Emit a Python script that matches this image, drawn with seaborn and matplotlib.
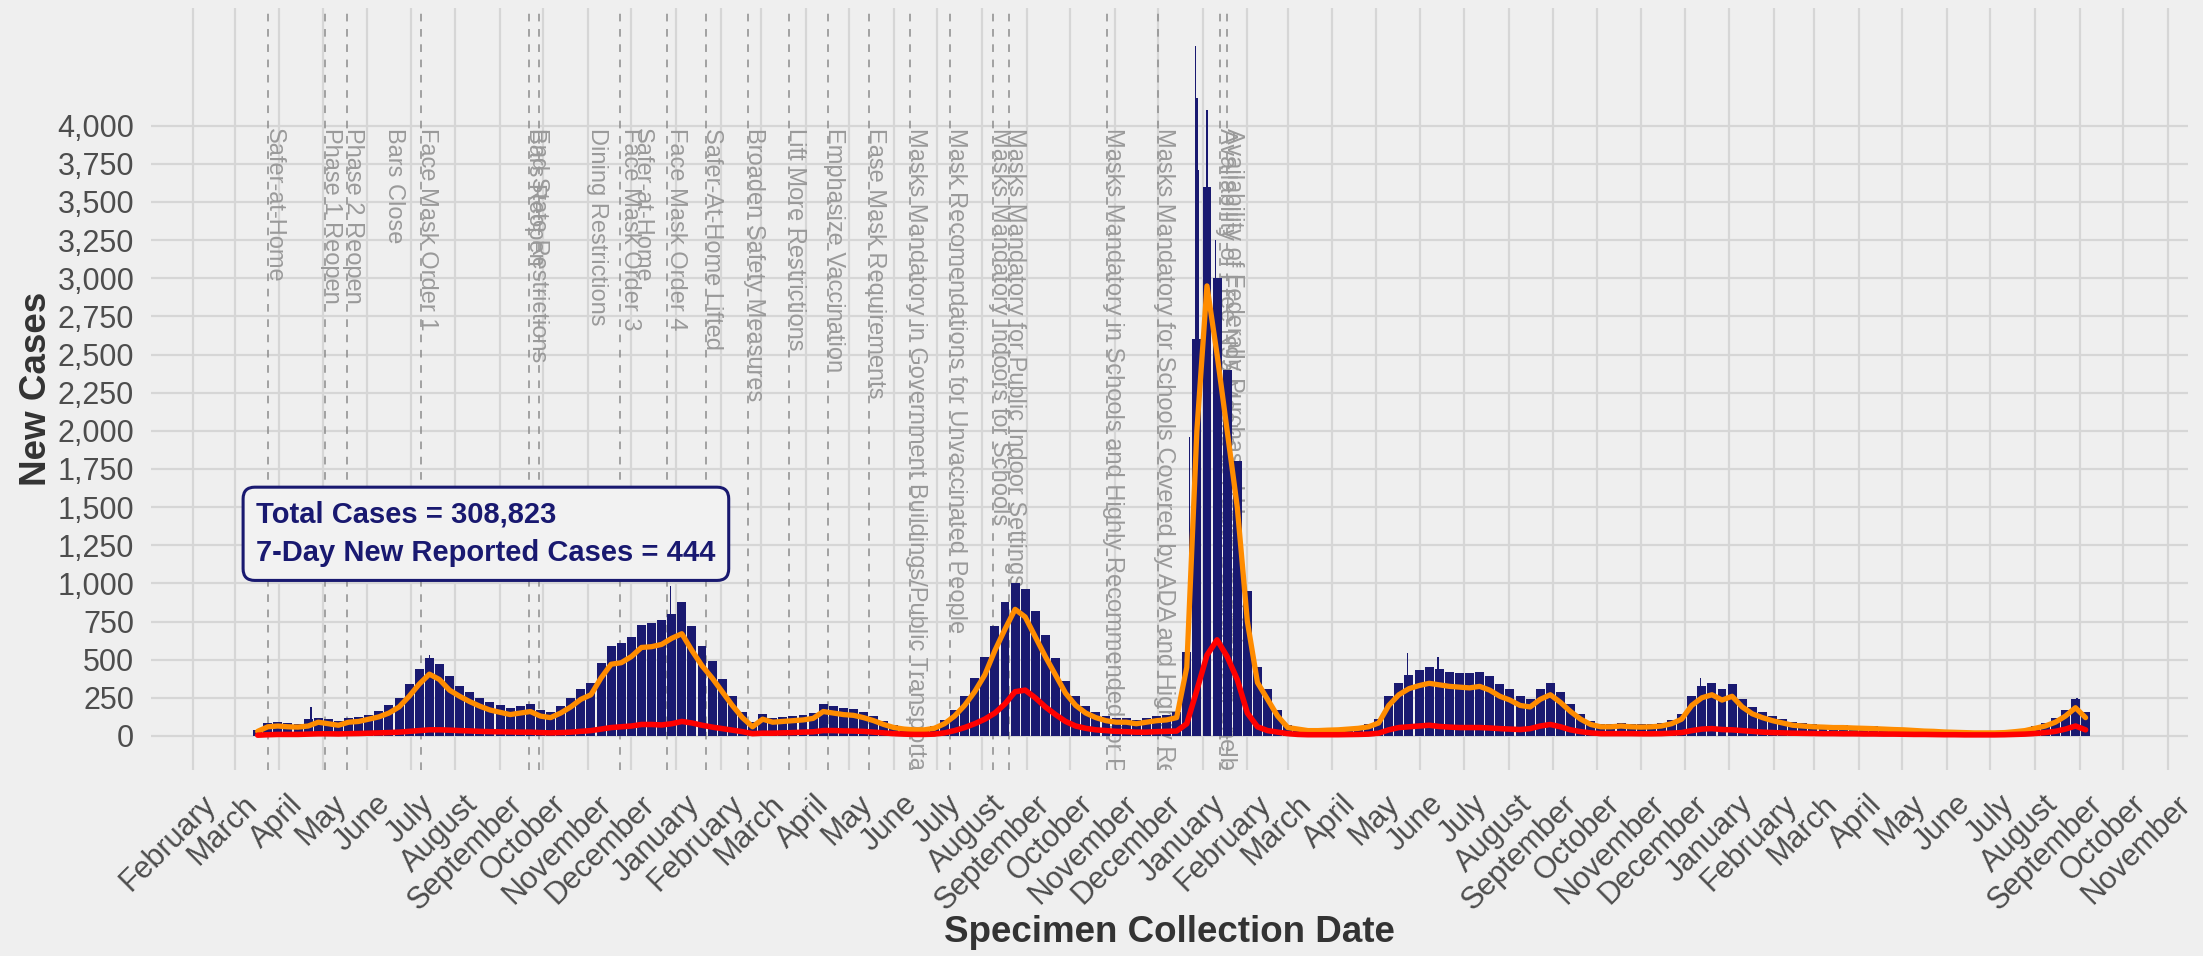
import numpy as np
import pandas as pd
import matplotlib
matplotlib.use("Agg")
import matplotlib.pyplot as plt
import matplotlib.dates as mdates
import matplotlib.transforms as mtransforms
import seaborn as sns

# ---- data (weekly, weeks start 2020-03-14) ----
week_start = pd.date_range("2020-03-14", periods=182, freq="7D")

# navy bars: typical high daily count in each week
bar_2020 = [40, 85, 90, 85, 80, 110, 120, 110, 95, 120, 125, 140, 165, 200, 250,
            340, 440, 510, 470, 390, 330, 290, 250, 220, 200, 180, 195, 210, 170,
            160, 195, 250, 310, 350, 480, 590, 610, 650, 730, 740, 760, 800]
bar_2021 = [880, 720, 590, 490, 370, 260, 160, 90, 145, 120, 125, 130, 140, 150,
            210, 195, 185, 175, 160, 130, 100, 75, 60, 55, 55, 65, 105, 170, 260,
            380, 520, 720, 880, 1000, 960, 820, 660, 510, 360, 260, 195, 155, 130,
            120, 115, 105, 115, 130, 135, 155, 550, 2600]
bar_2022 = [3600, 3000, 2400, 1800, 950, 450, 310, 170, 75, 55, 45, 45, 48, 52, 58,
            65, 78, 110, 260, 350, 400, 430, 450, 440, 420, 415, 410, 420, 390, 340,
            305, 260, 245, 310, 350, 285, 210, 145, 100, 80, 80, 85, 80, 76, 80, 85,
            105, 145, 260, 325, 350, 305, 340]
bar_2023 = [245, 190, 155, 130, 110, 90, 85, 78, 75, 72, 72, 68, 65, 62, 58, 55, 52,
            47, 42, 39, 34, 31, 29, 26, 26, 26, 29, 36, 45, 65, 85, 115, 170, 240, 155]

# orange line (7-day average)
avg_2020 = [30, 60, 65, 60, 58, 65, 90, 80, 70, 90, 95, 110, 125, 150, 190, 260, 340,
            405, 370, 300, 260, 225, 195, 170, 155, 140, 150, 160, 130, 120, 150, 190,
            240, 270, 380, 470, 480, 520, 580, 585, 600, 640]
avg_2021 = [670, 560, 460, 380, 290, 200, 120, 60, 110, 90, 95, 100, 105, 115, 160,
            150, 140, 135, 120, 100, 75, 55, 45, 40, 40, 50, 80, 130, 200, 290, 400,
            560, 700, 830, 780, 650, 520, 400, 280, 200, 150, 120, 100, 90, 90, 80,
            90, 100, 105, 120, 450, 2000]
avg_2022 = [2950, 2500, 2000, 1500, 750, 350, 240, 130, 55, 45, 35, 35, 38, 40, 45,
            50, 60, 85, 200, 270, 310, 330, 345, 335, 325, 320, 315, 325, 300, 260,
            235, 200, 190, 240, 270, 220, 160, 110, 75, 60, 60, 65, 60, 58, 60, 65,
            80, 110, 200, 250, 270, 235, 260]
avg_2023 = [190, 145, 120, 100, 85, 70, 65, 60, 58, 55, 55, 52, 50, 48, 45, 42, 40,
            36, 32, 30, 26, 24, 22, 20, 20, 20, 22, 28, 35, 50, 65, 90, 130, 185, 120]

# red line
red_2020 = [5, 8, 10, 10, 10, 12, 14, 14, 13, 15, 16, 18, 20, 22, 25, 30, 35, 40, 40,
            38, 35, 33, 30, 28, 27, 26, 25, 25, 22, 20, 22, 25, 30, 35, 45, 55, 60,
            65, 75, 75, 72, 80]
red_2021 = [95, 85, 70, 58, 48, 38, 28, 15, 18, 18, 20, 22, 25, 27, 35, 35, 33, 32,
            30, 25, 20, 15, 12, 10, 10, 12, 20, 35, 55, 80, 110, 150, 210, 290, 300,
            250, 190, 140, 95, 65, 50, 40, 35, 30, 28, 25, 25, 28, 30, 32, 80, 300]
red_2022 = [530, 630, 520, 370, 150, 60, 35, 25, 15, 10, 8, 8, 8, 8, 9, 10, 12, 18,
            40, 55, 60, 65, 70, 62, 58, 55, 55, 55, 52, 48, 45, 42, 48, 65, 75, 60,
            40, 28, 20, 15, 15, 15, 15, 14, 14, 15, 18, 22, 35, 45, 48, 42, 40]
red_2023 = [35, 30, 25, 22, 20, 18, 17, 16, 15, 15, 14, 14, 13, 13, 12, 12, 11, 10,
            10, 9, 8, 8, 7, 7, 7, 7, 8, 10, 12, 16, 22, 30, 45, 65, 40]

# single tall days that stick out above the weekly envelope
spike_dates = pd.to_datetime(["2020-04-23", "2020-07-14", "2020-12-28", "2021-12-23",
                              "2021-12-27", "2021-12-28", "2021-12-29", "2022-01-04",
                              "2022-01-10", "2022-05-23", "2022-06-13", "2022-12-12",
                              "2023-08-30"])
spike_values = [190, 530, 980, 1960, 4520, 4180, 3710, 4100, 3250, 545, 520, 380, 250]

# dashed event lines
event_dates = pd.to_datetime([
    "2020-03-24", "2020-05-03", "2020-05-18", "2020-07-08", "2020-09-21",
    "2020-09-28", "2020-11-23", "2020-12-26", "2021-01-22", "2021-02-20",
    "2021-03-20", "2021-04-16", "2021-05-15", "2021-06-12", "2021-07-10",
    "2021-08-09", "2021-08-20", "2021-10-27", "2021-12-01", "2022-01-13",
    "2022-01-18"])

label_texts = [
    "Safer-at-Home", "Phase 1 Reopen", "Phase 2 Reopen", "Bars Close",
    "Face Mask Order 1", "Bars Reopen", "End State Restrictions",
    "Dining Restrictions", "Face Mask Order 3", "Safer-at-Home",
    "Face Mask Order 4", "Safer-At-Home Lifted", "Broaden Safety Measures",
    "Lift More Restrictions", "Emphasize Vaccination", "Ease Mask Requirements",
    "Masks Mandatory in Government Buildings/Public Transportation",
    "Mask Recomendations for Unvaccinated People",
    "Masks Mandatory Indoors for Schools",
    "Masks Mandatory for Public Indoor Settings",
    "Masks Mandatory in Schools and Highly Recommended for Public Settings",
    "Masks Mandatory for Schools Covered by ADA and Highly Recommended",
    "Availability of Free N95 Masks at Health Department in Shelby County",
    "Availability of Federally Purchased Home Test Kits"]
label_dates = pd.to_datetime([
    "2020-03-24", "2020-05-03", "2020-05-18", "2020-06-15", "2020-07-08",
    "2020-09-21", "2020-09-23", "2020-11-03", "2020-11-26", "2020-12-04",
    "2020-12-28", "2021-01-22", "2021-02-20", "2021-03-20", "2021-04-16",
    "2021-05-15", "2021-06-12", "2021-07-10", "2021-08-09", "2021-08-20",
    "2021-10-27", "2021-12-01", "2022-01-13", "2022-01-18"])

total_cases = "308,823"
new_7day = "444"

df = pd.DataFrame({
    "week": week_start,
    "mid": week_start + pd.Timedelta(days=3),
    "bar": bar_2020 + bar_2021 + bar_2022 + bar_2023,
    "avg": avg_2020 + avg_2021 + avg_2022 + avg_2023,
    "red": red_2020 + red_2021 + red_2022 + red_2023,
})

# ---- style ----
bg = "#efefef"
navy = "#191970"
sns.set_theme(style="whitegrid")
plt.rcParams["font.family"] = ["Liberation Sans", "DejaVu Sans"]
plt.rcParams["axes.facecolor"] = bg
plt.rcParams["figure.facecolor"] = bg

fig = plt.figure(figsize=(22.03, 9.56), dpi=100)
ax = fig.add_axes([0.0685, 0.1946, 0.9247, 0.7971])
ax.set_facecolor(bg)
ax.grid(True, color="#d6d6d6", linewidth=1.6)
ax.set_axisbelow(True)
for s in ax.spines.values():
    s.set_visible(False)

# event lines and their labels (under the data)
for d in event_dates:
    ax.axvline(d, color="#8c8c8c", lw=1.1, ls=(0, (5, 5)), zorder=1)
for txt, d in zip(label_texts, label_dates):
    ax.text(d, 3985, txt, rotation=270, rotation_mode="anchor", ha="left",
            va="baseline", fontsize=17, color="#9a9a9a", clip_on=True, zorder=1.5)

# bars
ax.bar(df["mid"], df["bar"], width=6.2, color=navy, linewidth=0, zorder=2)
ax.bar(spike_dates, spike_values, width=1.0, color=navy, linewidth=0, zorder=2)

# lines
sns.lineplot(data=df, x="mid", y="avg", ax=ax, color="#ff8c00", linewidth=3.8, zorder=3)
sns.lineplot(data=df, x="mid", y="red", ax=ax, color="#ff0000", linewidth=4.0, zorder=4)

# axes
ax.set_xlim(pd.Timestamp("2020-01-03"), pd.Timestamp("2023-11-15"))
ax.set_ylim(-223, 4772)
ax.set_yticks(np.arange(0, 4001, 250))
ax.yaxis.set_major_formatter(plt.FuncFormatter(lambda v, p: f"{int(v):,}"))
ax.xaxis.set_major_locator(mdates.MonthLocator(bymonthday=1))
ax.xaxis.set_major_formatter(mdates.DateFormatter("%B"))
ax.tick_params(axis="both", length=0, labelsize=22, labelcolor="#4d4d4d")
ax.tick_params(axis="y", pad=12)
ax.tick_params(axis="x", pad=14)
shift = mtransforms.ScaledTranslation(0.08, 0, fig.dpi_scale_trans)
for lbl in ax.get_xticklabels():
    lbl.set_rotation(45)
    lbl.set_ha("right")
    lbl.set_rotation_mode("anchor")
    lbl.set_transform(lbl.get_transform() + shift)

ax.set_ylabel("New Cases", fontsize=26.5, fontweight="bold", color="#333333")
ax.yaxis.set_label_coords(-0.0476, 0.5)
ax.set_xlabel("Specimen Collection Date", fontsize=26.5, fontweight="bold", color="#333333")
ax.xaxis.set_label_coords(0.5, -0.19)

# summary box
ax.text(pd.Timestamp("2020-03-16"), 1325,
        f"Total Cases = {total_cases}\n7-Day New Reported Cases = {new_7day}",
        fontsize=21, fontweight="bold", color=navy, ha="left", va="center",
        linespacing=1.5, zorder=6,
        bbox=dict(boxstyle="round,pad=0.45,rounding_size=0.4", fc="#f2f2f2",
                  ec=navy, lw=2.2))

fig.savefig("out.png", dpi=100, facecolor=bg)
